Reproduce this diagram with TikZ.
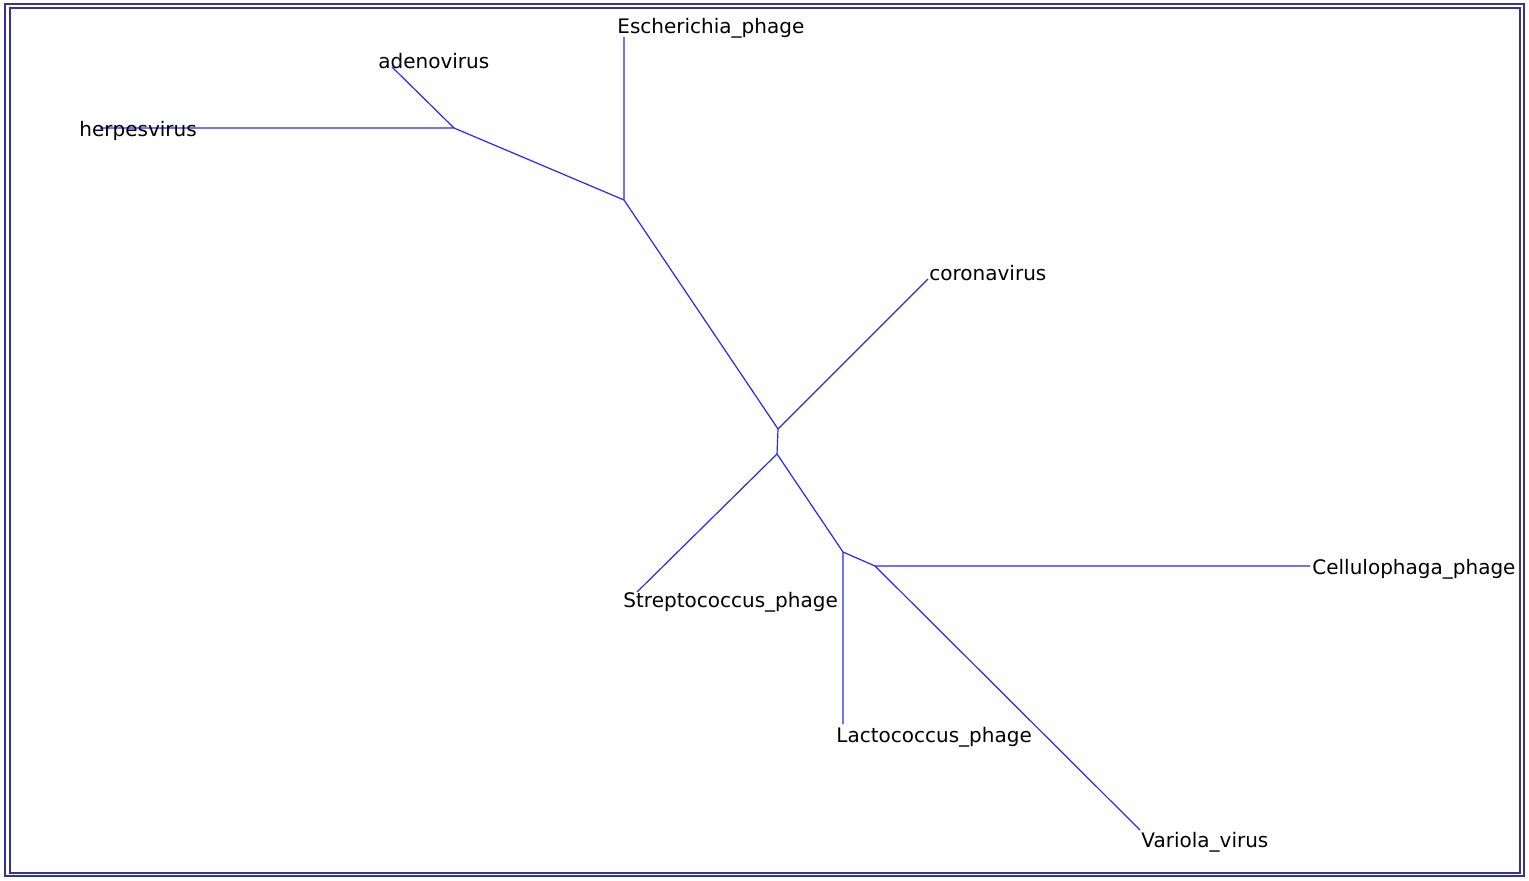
\documentclass[tikz,border=0pt]{standalone}
\usepackage{fontspec}
\newfontfamily\hojafont{DejaVu Sans}
\usetikzlibrary{calc}

\begin{document}
\begin{tikzpicture}[x=.5pt,y=-.5pt,
	rama/.style={draw=blue!85!white, line width=.6pt},
	hoja/.style={anchor=base west, inner sep=0pt, font=\hojafont\fontsize{10pt}{12pt}\selectfont}]
\useasboundingbox (0,0) rectangle (1529,881);

%---------------------------------------------------------------------------------------- MARCO
\draw[blue!50!black!80, line width=.8pt] (5,4) rectangle (1524,876);
\draw[blue!50!black!80, line width=.8pt] (10,8) rectangle (1520,873);

%---------------------------------------------------------------------------------------- NODOS INTERNOS
\coordinate (nA) at (454,128);
\coordinate (nB) at (624,200);
\coordinate (nC) at (778,429);
\coordinate (nD) at (777,454);
\coordinate (nE) at (843,552);
\coordinate (nF) at (875,566);

%---------------------------------------------------------------------------------------- HOJAS
\coordinate (herpes)  at (100,128);
\coordinate (adeno)   at (392,67);
\coordinate (escher)  at (624,37);
\coordinate (corona)  at (928,279);
\coordinate (strepto) at (637,592);
\coordinate (lacto)   at (843,724);
\coordinate (cellulo) at (1310,566);
\coordinate (variola) at (1140,830);

%---------------------------------------------------------------------------------------- RAMAS
\draw[rama] (herpes)--(nA) (adeno)--(nA) (nA)--(nB);
\draw[rama] (escher)--(nB) (nB)--(nC) (corona)--(nC) (nC)--(nD);
\draw[rama] (strepto)--(nD) (nD)--(nE) (lacto)--(nE) (nE)--(nF);
\draw[rama] (cellulo)--(nF) (variola)--(nF);

%---------------------------------------------------------------------------------------- ETIQUETAS
\node[hoja] (tHerpes)  at (79,137)   {herpesvirus};
\node[hoja] (tAdeno)   at (378,69)   {adenovirus};
\node[hoja] (tEscher)  at (617,34)   {Escherichia\_phage};
\node[hoja] (tCorona)  at (929,281)  {coronavirus};
\node[hoja] (tStrepto) at (623,607)  {Streptococcus\_phage};
\node[hoja] (tLacto)   at (836,742)  {Lactococcus\_phage};
\node[hoja] (tCellulo) at (1312,574) {Cellulophaga\_phage};
\node[hoja] (tVariola) at (1141,847) {Variola\_virus};

\end{tikzpicture}
\end{document}
